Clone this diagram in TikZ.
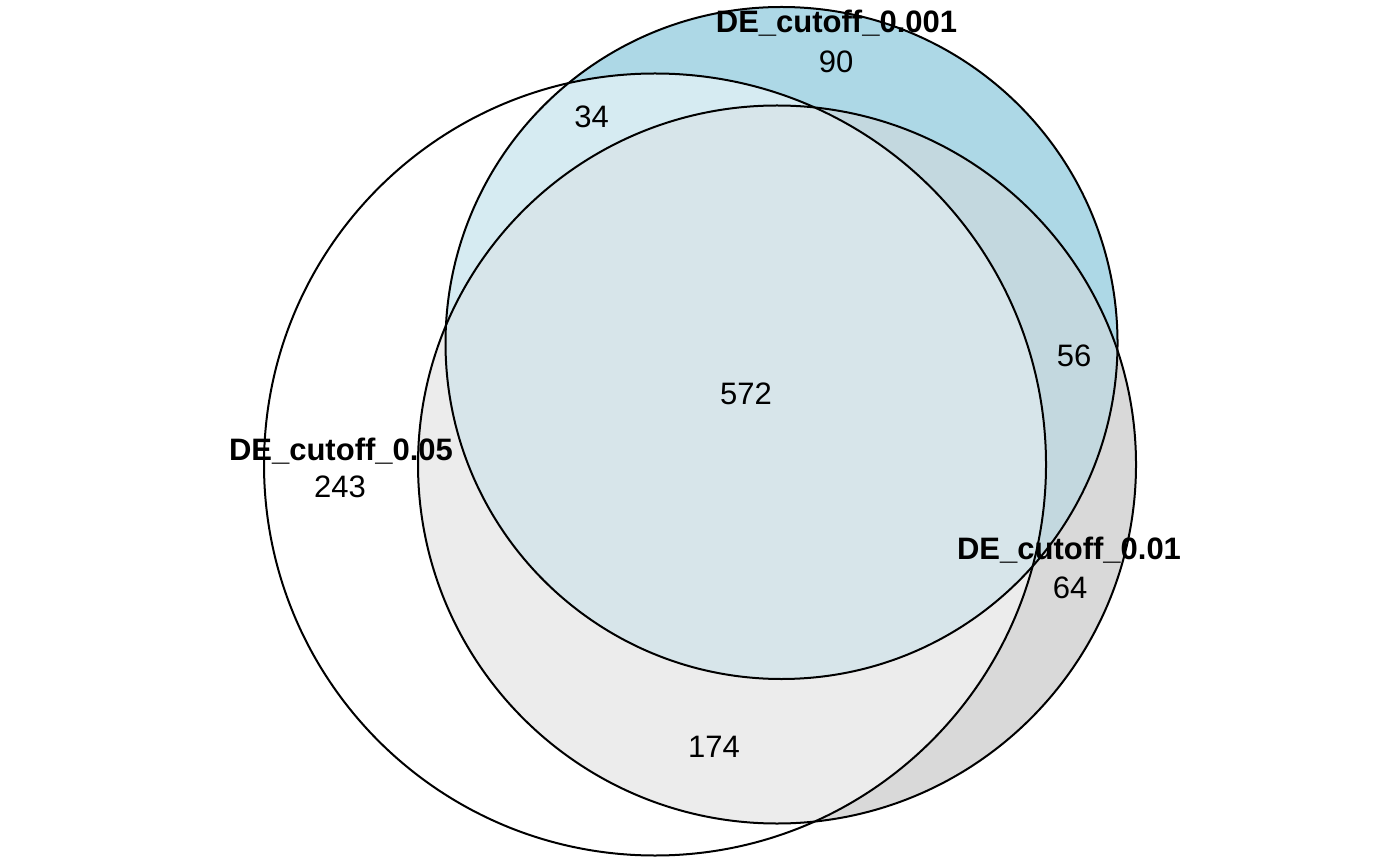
\documentclass[tikz,border=0pt]{standalone}
\usepackage{fontspec}
\setmainfont{Liberation Sans}
\definecolor{onlyB}{HTML}{ADD8E6}
\definecolor{onlyC}{HTML}{D9D9D9}
\definecolor{AB}{HTML}{D6EBF2}
\definecolor{AC}{HTML}{ECECEC}
\definecolor{BC}{HTML}{C3D8DF}
\definecolor{ABC}{HTML}{D7E5EA}
\def\rA{195.5pt}
\def\rB{168pt}
\def\rC{179.5pt}
\tikzset{
    setline/.style={
        draw=black,
        line width=1pt
    },
    setname/.style={
        anchor=base,
        inner sep=0pt,
        font=\bfseries\fontsize{15.5}{18}\selectfont
    },
    count/.style={
        anchor=base,
        inner sep=0pt,
        font=\fontsize{15.5}{18}\selectfont
    }
}

\begin{document}
\begin{tikzpicture}[x=0.5pt,y=-0.5pt]
        \useasboundingbox (0,0) rectangle (1400,865);
        \coordinate (cA) at (655,464.5);
        \coordinate (cB) at (781.5,343);
        \coordinate (cC) at (777,464.5);

        % region fills
        \fill[onlyC] (cC) circle [radius=\rC];
        \fill[onlyB] (cB) circle [radius=\rB];
        \begin{scope}
            \clip (cB) circle [radius=\rB];
            \fill[BC] (cC) circle [radius=\rC];
        \end{scope}
        \begin{scope}
            \clip (cA) circle [radius=\rA];
            \fill[AC] (cC) circle [radius=\rC];
            \fill[AB] (cB) circle [radius=\rB];
            \clip (cB) circle [radius=\rB];
            \fill[ABC] (cC) circle [radius=\rC];
        \end{scope}

        % outlines
        \draw[setline] (cA) circle [radius=\rA];
        \draw[setline] (cB) circle [radius=\rB];
        \draw[setline] (cC) circle [radius=\rC];

        % labels
        \node[setname] (nameB) at (836.5,33) {DE\_cutoff\_0.001};
        \node[count] (cntB) at (836,73) {90};
        \node[setname] (nameA) at (341,460) {DE\_cutoff\_0.05};
        \node[count] (cntA) at (340,497) {243};
        \node[setname] (nameC) at (1069,559) {DE\_cutoff\_0.01};
        \node[count] (cntC) at (1070,598) {64};
        \node[count] (cntAB) at (591.5,128) {34};
        \node[count] (cntBC) at (1074,367) {56};
        \node[count] (cntABC) at (746,405) {572};
        \node[count] (cntAC) at (714,757) {174};
\end{tikzpicture}
\end{document}
